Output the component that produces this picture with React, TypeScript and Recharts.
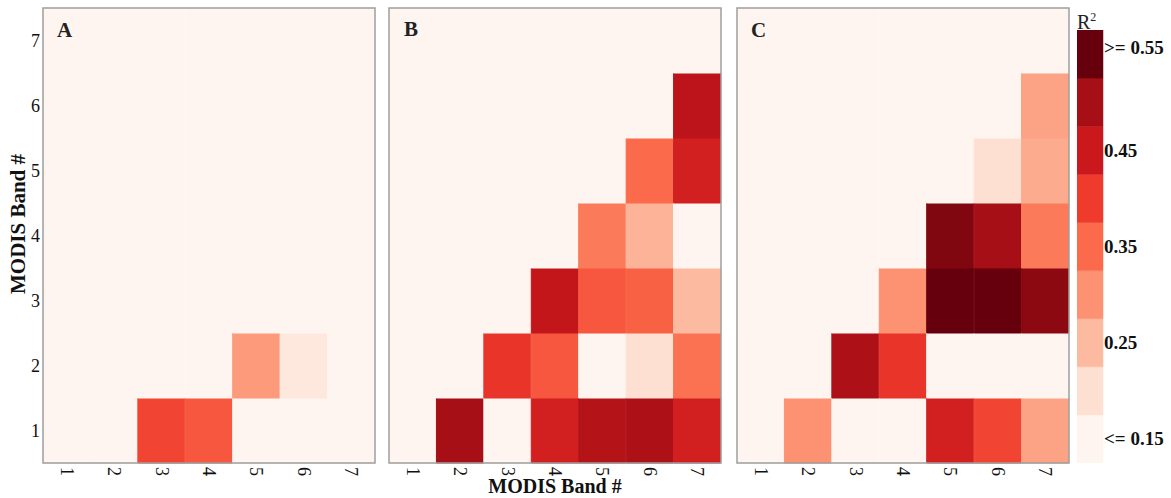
import React from "react";
import { BarChart, Bar, XAxis, YAxis, Cell } from "recharts";

const FONT = '"Liberation Serif", "Times New Roman", serif';
const BG = "#fff5f0";

const bands = [1, 2, 3, 4, 5, 6, 7];

// R² per row (y band 1..7), values for x bands 1..7; null = no pair drawn
const panelA: (number | null)[][] = [
  [null, 0.13, 0.39, 0.37, 0.14, 0.14, 0.14],
  [null, null, 0.13, 0.13, 0.29, 0.18, 0.14],
  [null, null, null, 0.13, 0.13, 0.13, 0.13],
  [null, null, null, null, 0.13, 0.13, 0.13],
  [null, null, null, null, null, 0.13, 0.13],
  [null, null, null, null, null, null, 0.13],
  [null, null, null, null, null, null, null],
];

const panelB: (number | null)[][] = [
  [null, 0.5, 0.13, 0.44, 0.48, 0.49, 0.44],
  [null, null, 0.41, 0.37, 0.14, 0.2, 0.34],
  [null, null, null, 0.46, 0.37, 0.36, 0.25],
  [null, null, null, null, 0.33, 0.26, 0.14],
  [null, null, null, null, null, 0.35, 0.44],
  [null, null, null, null, null, null, 0.47],
  [null, null, null, null, null, null, null],
];

const panelC: (number | null)[][] = [
  [null, 0.3, 0.14, 0.14, 0.44, 0.39, 0.28],
  [null, null, 0.49, 0.41, 0.15, 0.15, 0.15],
  [null, null, null, 0.3, 0.56, 0.56, 0.52],
  [null, null, null, null, 0.53, 0.5, 0.33],
  [null, null, null, null, null, 0.2, 0.27],
  [null, null, null, null, null, null, 0.28],
  [null, null, null, null, null, null, null],
];

const reds = ["#fff5f0", "#fee0d2", "#fcbba1", "#fc9272", "#fb6a4a", "#ef3b2c", "#cb181d", "#a50f15", "#67000d"];
const legendSteps = [0.15, 0.2, 0.25, 0.3, 0.35, 0.4, 0.45, 0.5, 0.55];
const legendTicks = [0.5, 2.5, 4.5, 6.5, 8.5];
const legendLabels = ["<= 0.15", "0.25", "0.35", "0.45", ">= 0.55"];

const hex = (c: string) => [1, 3, 5].map((i) => parseInt(c.slice(i, i + 2), 16));

function colorFor(v: number | null) {
  if (v == null) return BG;
  const t = Math.max(0, Math.min(8, (v - 0.15) / 0.05));
  const i = Math.min(7, Math.floor(t));
  const f = t - i;
  const a = hex(reds[i]);
  const b = hex(reds[i + 1]);
  const m = a.map((x, k) => Math.round(x + (b[k] - x) * f));
  return `rgb(${m[0]},${m[1]},${m[2]})`;
}

// every cell is one unit of a stacked column
const cellRows = bands.map((b) => {
  const row: Record<string, number> = { band: b };
  bands.forEach((y) => (row[`r${y}`] = 1));
  return row;
});

const legendRow = [Object.fromEntries([["k", "R2"], ...legendSteps.map((_, i) => [`b${i}`, 1])])];

const XTick = (props: any) => {
  const { x, y, payload } = props;
  return (
    <text
      x={x}
      y={y}
      transform={`rotate(90, ${x}, ${y})`}
      textAnchor="start"
      dominantBaseline="central"
      fontSize={18}
      fontFamily={FONT}
      fill="#111"
    >
      {payload.value}
    </text>
  );
};

const LegendTick = (props: any) => {
  const { x, y, index } = props;
  return (
    <text
      x={x}
      y={index === legendLabels.length - 1 ? y - 7 : y}
      textAnchor="start"
      dominantBaseline="central"
      fontSize={19}
      fontWeight="bold"
      fontFamily={FONT}
      fill="#111"
    >
      {legendLabels[index]}
    </text>
  );
};

function Panel({ matrix, left, width, showY }: { matrix: (number | null)[][]; left: number; width: number; showY: boolean }) {
  return (
    <div style={{ position: "absolute", left, top: 0 }}>
      <BarChart width={width} height={498} data={cellRows} margin={{ top: 8, right: 1, bottom: 0, left: 0 }} barCategoryGap={0} barGap={0}>
        <XAxis dataKey="band" type="category" height={35} interval={0} tickLine={false} axisLine={false} tickSize={0} tickMargin={4} tick={XTick} />
        <YAxis
          type="number"
          domain={[0, 7]}
          ticks={[0.5, 1.5, 2.5, 3.5, 4.5, 5.5, 6.5]}
          tickFormatter={(v: number) => String(v + 0.5)}
          hide={!showY}
          width={43}
          tickLine={false}
          axisLine={false}
          tickSize={0}
          tickMargin={3}
          tick={{ fontSize: 18, fill: "#111", fontFamily: FONT }}
        />
        {bands.map((y, yi) => (
          <Bar key={y} dataKey={`r${y}`} stackId="s" isAnimationActive={false}>
            {bands.map((x, xi) => (
              <Cell key={x} fill={colorFor(matrix[yi][xi])} stroke={colorFor(matrix[yi][xi])} strokeWidth={1} />
            ))}
          </Bar>
        ))}
      </BarChart>
    </div>
  );
}

export default function App() {
  return (
    <div style={{ position: "absolute", left: 0, top: 0, width: 1171, height: 498, background: "#fff", fontFamily: FONT }}>
      <Panel matrix={panelA} left={0} width={376} showY={true} />
      <Panel matrix={panelB} left={389} width={333} showY={false} />
      <Panel matrix={panelC} left={737} width={333} showY={false} />

      <div style={{ position: "absolute", left: 1077, top: 30 }}>
        <BarChart width={94} height={433} data={legendRow} margin={{ top: 0, right: 0, bottom: 0, left: 0 }} barCategoryGap={0} barGap={0}>
          <XAxis dataKey="k" hide />
          <YAxis
            orientation="right"
            type="number"
            domain={[0, 9]}
            ticks={legendTicks}
            width={68}
            tickLine={false}
            axisLine={false}
            tickSize={0}
            tickMargin={1}
            tick={LegendTick}
          />
          {legendSteps.map((s, i) => (
            <Bar key={i} dataKey={`b${i}`} stackId="c" fill={colorFor(s)} stroke={colorFor(s)} strokeWidth={0.5} isAnimationActive={false} />
          ))}
        </BarChart>
      </div>

      <svg width={1171} height={498} style={{ position: "absolute", left: 0, top: 0, pointerEvents: "none" }}>
        <rect x={43} y={8} width={332} height={455} fill="none" stroke="#9e9e9e" strokeWidth={1.5} />
        <rect x={389} y={8} width={332} height={455} fill="none" stroke="#9e9e9e" strokeWidth={1.5} />
        <rect x={737} y={8} width={332} height={455} fill="none" stroke="#9e9e9e" strokeWidth={1.5} />
        <text x={57} y={37} fontSize={21} fontWeight="bold" fontFamily={FONT} fill="#222">A</text>
        <text x={404} y={36} fontSize={21} fontWeight="bold" fontFamily={FONT} fill="#222">B</text>
        <text x={751} y={37} fontSize={21} fontWeight="bold" fontFamily={FONT} fill="#222">C</text>
        <text x={18} y={224} transform="rotate(-90, 18, 224)" textAnchor="middle" dominantBaseline="central" fontSize={21} fontWeight="bold" fontFamily={FONT} fill="#111">
          MODIS Band #
        </text>
        <text x={555} y={493} textAnchor="middle" fontSize={20} fontWeight="bold" fontFamily={FONT} fill="#111">
          MODIS Band #
        </text>
        <text x={1077} y={29} fontSize={20} fontFamily={FONT} fill="#222">
          R<tspan dy={-8} fontSize={12}>2</tspan>
        </text>
      </svg>
    </div>
  );
}
